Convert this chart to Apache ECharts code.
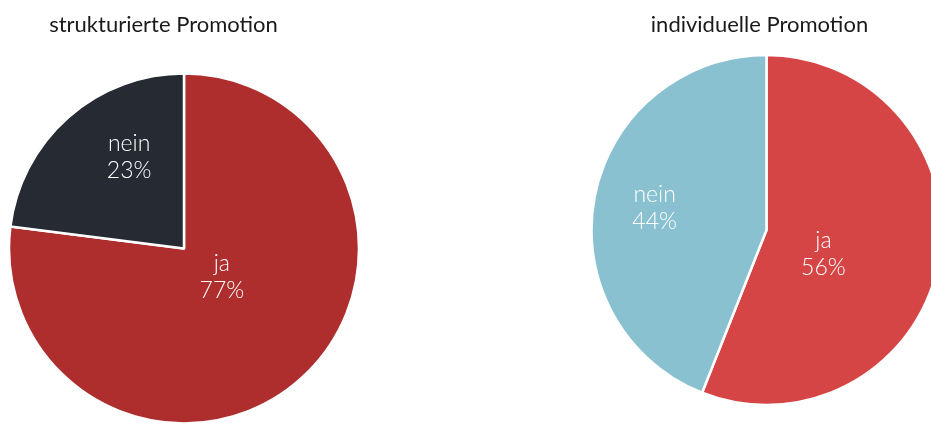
<!DOCTYPE html>
<html>
<head>
<meta charset="utf-8">
<script src="https://cdn.jsdelivr.net/npm/echarts@6/dist/echarts.min.js"></script>
<style>
html,body{margin:0;padding:0;background:#fff;}
#chart{width:931px;height:423px;}
</style>
</head>
<body>
<div id="chart"></div>
<script>
const titles = ['strukturierte Promotion', 'individuelle Promotion'];
const categories = ['ja', 'nein'];
const valuesStrukturiert = [77, 23];
const valuesIndividuell = [56, 44];
const colorsStrukturiert = ['#AE2E2E', '#262A32'];
const colorsIndividuell = ['#D64545', '#8AC1D0'];

// label nudges (relative to inner mid-radius position) to match reference placement
const labelShift = [
  [[-22, -39], [5, -24]],
  [[-32, 7], [-23, -5]]
];

const FONT = 'Lato, "Open Sans", sans-serif';

function mkData(vals, cols) {
  return categories.map((c, i) => ({ name: c, value: vals[i], itemStyle: { color: cols[i] } }));
}

const chart = echarts.init(document.getElementById('chart'), null, { renderer: 'canvas' });
chart.setOption({
  animation: false,
  title: [
    { text: titles[0], left: 158.5, top: 9, textAlign: 'center',
      textStyle: { fontFamily: FONT, fontSize: 22, fontWeight: 'normal', color: '#1a1a1a' } },
    { text: titles[1], left: 754.5, top: 9, textAlign: 'center',
      textStyle: { fontFamily: FONT, fontSize: 22, fontWeight: 'normal', color: '#1a1a1a' } }
  ],
  series: [
    {
      type: 'pie', center: [184, 248.5], radius: [0, 175], startAngle: 90, clockwise: true,
      data: mkData(valuesStrukturiert, colorsStrukturiert),
      itemStyle: { borderColor: '#fff', borderWidth: 2.5 },
      label: { show: true, position: 'inner', formatter: '{b}\n{d}%', color: '#fff',
        fontFamily: FONT, fontSize: 23, fontWeight: 300, lineHeight: 27 },
      labelLine: { show: false },
      labelLayout: function (p) { const s = labelShift[0][p.dataIndex]; return { dx: s[0], dy: s[1] }; },
      emphasis: { disabled: true }
    },
    {
      type: 'pie', center: [766.5, 230], radius: [0, 175], startAngle: 90, clockwise: true,
      data: mkData(valuesIndividuell, colorsIndividuell),
      itemStyle: { borderColor: '#fff', borderWidth: 2.5 },
      label: { show: true, position: 'inner', formatter: '{b}\n{d}%', color: '#fff',
        fontFamily: FONT, fontSize: 23, fontWeight: 300, lineHeight: 27 },
      labelLine: { show: false },
      labelLayout: function (p) { const s = labelShift[1][p.dataIndex]; return { dx: s[0], dy: s[1] }; },
      emphasis: { disabled: true }
    }
  ]
});
</script>
</body>
</html>
